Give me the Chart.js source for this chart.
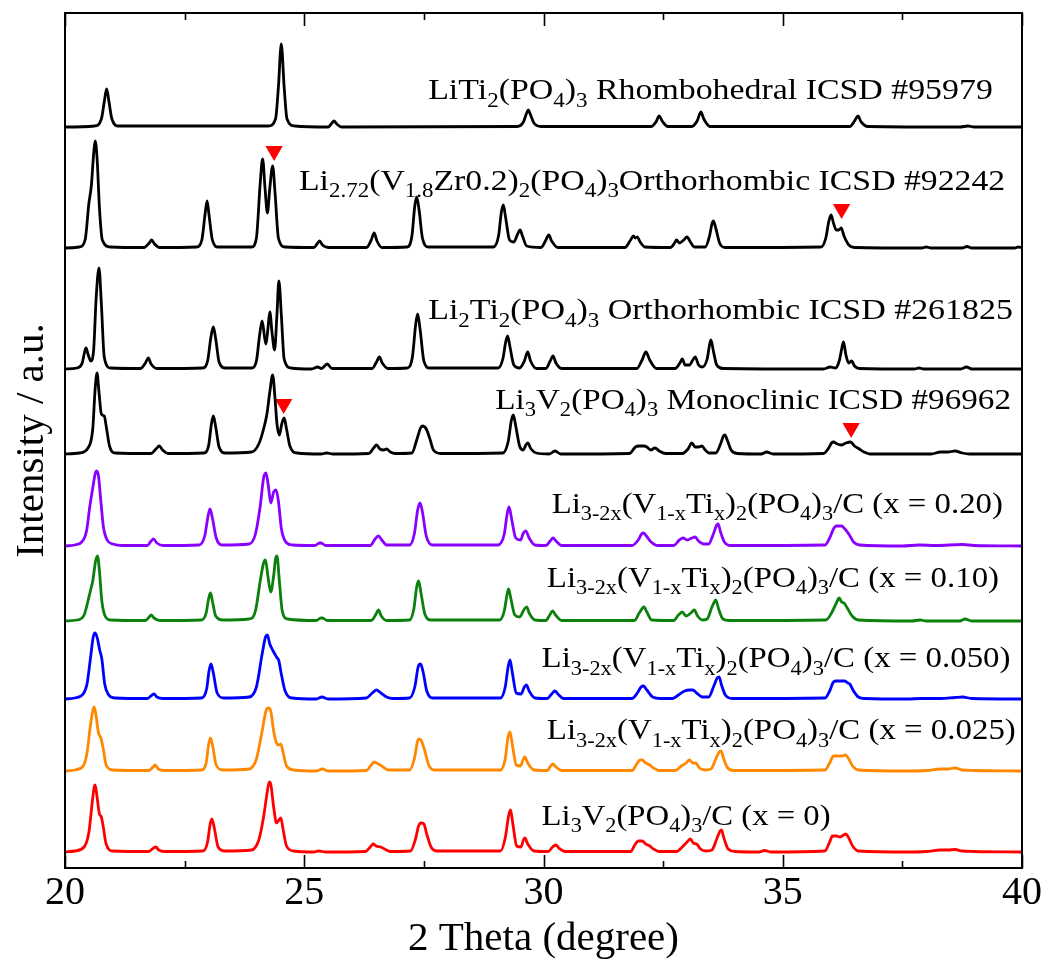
<!DOCTYPE html>
<html><head><meta charset="utf-8">
<script src="https://cdn.jsdelivr.net/npm/chart.js@4/dist/chart.umd.min.js"></script>
<style>html,body{margin:0;padding:0;background:#fff;}canvas{display:block;}</style>
</head><body>
<canvas id="c" width="1047" height="963"></canvas>
<script>
// ---------------- DATA (2θ in degrees, intensity above each pattern's own baseline, a.u.) ----------------
const xTickLabels = ['20', '25', '30', '35', '40'];
const minorTickValues = [22.5, 27.5, 32.5, 37.5];

const liti2Rhombohedral = [[20,0],[20.62,1],[20.76,8],[20.82,25],[20.87,38],[20.92,25],[20.98,8],[21.12,1],
[24.25,1],[24.4,8],[24.46,40],[24.52,83],[24.58,40],[24.64,8],[24.8,1],
[25.5,0],[25.58,4],[25.62,6],[25.68,3],[25.78,0],
[29.45,0.5],[29.58,5],[29.64,13],[29.68,17],[29.73,12],[29.8,4],[29.95,0.5],
[32.25,0.5],[32.35,5],[32.42,11],[32.48,6],[32.6,0.5],
[33.1,0.5],[33.21,6],[33.29,15],[33.35,8],[33.48,0.5],
[36.4,0.5],[36.5,6],[36.57,11],[36.64,5],[36.78,0.5],
[38.7,0],[38.87,1],[39.0,0],[40,0]];

const li272Orthorhombic = [[20,0],[20.3,1],[20.42,8],[20.5,45],[20.55,62],[20.6,95],[20.63,107],[20.67,90],[20.72,40],[20.78,8],[20.95,1],
[21.65,0.5],[21.76,5],[21.81,8],[21.87,4],[21.98,0.5],
[22.75,1],[22.86,8],[22.93,35],[22.97,47],[23.01,33],[23.08,8],[23.2,1],
[23.9,1],[24.0,10],[24.08,65],[24.13,89],[24.18,60],[24.23,35],[24.28,60],[24.34,82],[24.39,55],[24.46,10],[24.6,1],
[25.2,0.5],[25.28,5],[25.32,7],[25.38,3],[25.5,0.5],
[26.3,0.5],[26.4,8],[26.46,15],[26.52,7],[26.62,0.5],
[27.15,1],[27.25,12],[27.31,42],[27.35,51],[27.4,38],[27.47,10],[27.6,1],
[28.95,1],[29.06,12],[29.12,36],[29.16,43],[29.21,30],[29.29,8],[29.38,6],[29.46,14],[29.51,18],[29.56,12],[29.65,2],
[29.95,0.5],[30.05,8],[30.11,13],[30.17,7],[30.3,0.5],
[31.7,0.5],[31.82,8],[31.88,12],[31.92,10],[31.96,11],[32.02,6],[32.12,1],
[32.65,0.5],[32.74,5],[32.78,8],[32.84,5],[32.93,8],[33.0,11],[33.07,6],[33.15,1],
[33.38,1],[33.47,12],[33.52,24],[33.55,27],[33.6,20],[33.68,5],[33.8,0.5],
[35.8,1],[35.9,10],[35.96,26],[36.01,33],[36.06,25],[36.12,18],[36.17,18],[36.22,20],[36.28,12],[36.38,3],[36.5,0.5],
[37.9,0],[38.0,1],[38.1,0],[38.75,0],[38.85,1.5],[38.95,0],[39.85,0],[39.92,1],[40,0.5]];

const li2ti2Orthorhombic = [[20,0],[20.25,1],[20.36,6],[20.41,17],[20.44,21],[20.48,15],[20.54,8],[20.6,20],[20.65,70],[20.71,101],[20.76,65],[20.82,12],[20.95,1],
[21.58,0.5],[21.68,6],[21.74,11],[21.8,5],[21.92,0.5],
[22.88,1],[22.98,8],[23.05,32],[23.10,42],[23.15,30],[23.22,7],[23.35,1],
[23.9,1],[24.0,8],[24.07,35],[24.12,48],[24.17,32],[24.2,25],[24.24,40],[24.28,57],[24.33,35],[24.38,19],[24.43,55],[24.47,88],[24.52,55],[24.58,10],[24.72,1],
[25.15,0],[25.28,2],[25.36,0.5],[25.48,5],[25.58,0.5],
[26.42,0.5],[26.51,7],[26.57,12],[26.63,6],[26.75,0.5],
[27.15,1],[27.26,12],[27.33,45],[27.37,55],[27.42,40],[27.5,8],[27.62,1],
[29.05,1],[29.15,10],[29.21,27],[29.25,33],[29.3,22],[29.38,4],[29.5,1],[29.6,8],[29.67,17],[29.73,8],[29.85,0.5],
[30.05,0.5],[30.14,8],[30.2,13],[30.26,6],[30.38,0.5],
[31.95,0.5],[32.06,9],[32.14,17],[32.22,9],[32.36,0.5],
[32.75,0.5],[32.85,6],[32.9,10],[32.96,4],[33.05,4],[33.12,9],[33.17,12],[33.24,4],[33.32,2],[33.42,10],[33.47,24],[33.5,29],[33.55,18],[33.62,4],[33.75,0.5],
[35.85,0],[35.99,2],[36.1,1],[36.18,8],[36.24,22],[36.27,27],[36.32,14],[36.38,6],[36.44,8],[36.5,3],[36.6,0.5],
[37.75,0],[37.85,1],[37.95,0],[38.72,0],[38.84,2],[38.95,0],[40,0]];

const li3v2Monoclinic = [[20,0],[20.3,1],[20.48,6],[20.58,25],[20.63,65],[20.67,81],[20.71,62],[20.76,40],[20.82,38],[20.87,25],[20.93,8],[21.05,1],
[21.8,0.5],[21.9,5],[21.97,8],[22.04,4],[22.15,0.5],
[22.9,1],[23.0,8],[23.06,30],[23.10,38],[23.15,27],[23.22,7],[23.35,1],
[23.9,2],[24.05,10],[24.15,25],[24.22,40],[24.28,62],[24.34,79],[24.39,55],[24.43,30],[24.48,19],[24.53,30],[24.58,36],[24.63,25],[24.7,8],[24.85,1],
[25.35,0],[25.47,1],[25.6,0],
[26.35,0.5],[26.45,6],[26.51,9],[26.58,5],[26.66,4],[26.72,5],[26.8,2],[26.9,0.5],
[27.25,1],[27.35,14],[27.43,26],[27.47,28],[27.55,25],[27.62,16],[27.7,4],[27.85,0.5],
[29.15,1],[29.26,12],[29.33,34],[29.37,39],[29.42,28],[29.5,8],[29.58,4],[29.63,9],[29.67,11],[29.74,5],[29.85,1],
[30.12,0],[30.24,3],[30.36,0],
[31.8,0.5],[31.92,7],[32.0,8],[32.1,8],[32.16,7],[32.24,4],[32.33,6],[32.42,3],[32.55,0.5],
[32.9,0.5],[33.02,5],[33.1,11],[33.17,7],[33.24,7],[33.31,8],[33.38,4],[33.46,1],
[33.6,1],[33.7,10],[33.76,18],[33.79,19],[33.84,14],[33.92,4],[34.05,0.5],
[34.55,0],[34.66,2],[34.8,0],
[35.85,0.5],[35.96,6],[36.02,11],[36.06,12],[36.14,10],[36.22,9],[36.32,11],[36.42,12],[36.5,8],[36.6,5],[36.7,2],[36.82,0],
[38.1,0],[38.3,2],[38.45,2],[38.6,3],[38.75,1],[38.9,0],[40,0]];

const sampleX020 = [[20,0],[20.2,1],[20.35,4],[20.45,15],[20.52,40],[20.58,58],[20.63,72],[20.66,75],[20.7,70],[20.74,50],[20.8,20],[20.88,6],[21.0,2],[21.2,0.5],
[21.72,0.5],[21.8,5],[21.85,7],[21.92,3],[22.05,0.5],
[22.8,1],[22.92,10],[22.99,30],[23.03,37],[23.08,28],[23.16,8],[23.3,1],
[23.85,2],[23.98,12],[24.08,40],[24.15,68],[24.2,73],[24.25,60],[24.3,43],[24.36,54],[24.41,56],[24.46,45],[24.52,18],[24.6,5],[24.75,1],
[25.22,0.5],[25.32,3],[25.35,3],[25.45,0.5],
[26.38,0.5],[26.48,7],[26.55,10],[26.62,6],[26.72,1],
[27.2,1],[27.3,12],[27.37,36],[27.42,43],[27.47,34],[27.55,10],[27.68,1],
[29.05,1],[29.18,12],[29.24,32],[29.28,39],[29.33,28],[29.42,8],[29.52,6],[29.58,13],[29.63,15],[29.7,8],[29.82,1],
[30.05,0.5],[30.14,5],[30.2,8],[30.26,5],[30.38,0.5],
[31.85,0.5],[31.98,6],[32.05,12],[32.09,13],[32.15,10],[32.25,4],[32.38,0.5],
[32.72,0.5],[32.84,6],[32.92,8],[33.0,6],[33.1,8],[33.17,9],[33.24,5],[33.35,2],
[33.45,2],[33.55,12],[33.62,21],[33.65,22],[33.7,14],[33.78,4],[33.92,0.5],
[35.88,1],[35.98,8],[36.06,17],[36.12,20],[36.18,20],[36.23,20],[36.3,17],[36.38,12],[36.48,4],[36.6,1],
[37.5,0],[37.85,1],[38.2,0.5],[38.76,1.5],[39.0,0.5],[40,0]];

const sampleX010 = [[20,0],[20.25,1],[20.4,6],[20.48,20],[20.53,30],[20.58,40],[20.64,60],[20.68,65],[20.72,50],[20.77,20],[20.83,6],[20.95,1],
[21.68,0.5],[21.76,4],[21.8,6],[21.86,3],[21.98,0.5],
[22.85,1],[22.95,8],[23.0,22],[23.04,28],[23.08,20],[23.15,5],[23.3,1],
[23.85,2],[23.98,10],[24.08,40],[24.15,58],[24.19,61],[24.24,45],[24.3,29],[24.36,45],[24.4,62],[24.43,65],[24.48,40],[24.54,10],[24.65,2],
[25.25,0.5],[25.35,3],[25.38,3],[25.48,0.5],
[26.4,0.5],[26.49,6],[26.55,11],[26.61,5],[26.72,0.5],
[27.2,1],[27.29,12],[27.35,34],[27.39,40],[27.44,28],[27.52,7],[27.65,1],
[29.08,1],[29.18,10],[29.24,27],[29.27,32],[29.32,22],[29.4,6],[29.5,4],[29.6,12],[29.65,14],[29.7,8],[29.82,1],
[30.05,0.5],[30.13,6],[30.19,10],[30.25,6],[30.38,0.5],
[31.9,0.5],[32.0,8],[32.07,13],[32.1,14],[32.16,9],[32.26,1],
[32.72,0.5],[32.82,6],[32.9,9],[32.98,5],[33.08,8],[33.15,11],[33.22,5],[33.32,1],
[33.42,2],[33.52,14],[33.58,20],[33.6,21],[33.66,12],[33.75,2],[33.88,0.5],
[35.9,1],[36.02,8],[36.12,18],[36.18,23],[36.23,19],[36.28,18],[36.36,12],[36.45,5],[36.58,1],
[37.7,0],[37.87,1],[38.0,0],[38.7,0],[38.81,2],[38.95,0],[40,0]];

const sampleX050 = [[20,0],[20.2,1],[20.38,5],[20.46,15],[20.53,40],[20.59,62],[20.63,66],[20.68,60],[20.72,50],[20.77,40],[20.83,15],[20.9,5],[21.05,1],
[21.72,0.5],[21.82,4],[21.86,5],[21.92,2],[22.05,0.5],
[22.85,1],[22.96,10],[23.01,28],[23.05,35],[23.1,26],[23.18,6],[23.32,1],
[23.85,2],[24.0,12],[24.12,45],[24.19,62],[24.23,64],[24.28,55],[24.35,48],[24.42,42],[24.47,38],[24.52,25],[24.6,8],[24.75,1],
[25.25,0],[25.37,2],[25.5,0],
[26.3,1],[26.42,6],[26.51,9],[26.6,6],[26.72,2],[26.85,0.5],
[27.2,1],[27.31,12],[27.38,32],[27.43,35],[27.48,28],[27.56,8],[27.7,1],
[29.1,1],[29.2,12],[29.26,32],[29.3,39],[29.35,26],[29.43,6],[29.53,5],[29.6,12],[29.64,14],[29.7,8],[29.82,1],
[30.08,0.5],[30.17,5],[30.24,8],[30.3,5],[30.42,0.5],
[31.85,0.5],[31.96,6],[32.04,12],[32.09,13],[32.16,9],[32.28,2],[32.45,0.5],
[32.7,0.5],[32.82,4],[32.95,8],[33.05,9],[33.12,9],[33.2,6],[33.32,2],
[33.45,2],[33.56,13],[33.63,21],[33.67,22],[33.72,14],[33.8,4],[33.95,0.5],
[35.88,1],[35.98,8],[36.06,17],[36.12,18],[36.2,18],[36.29,18],[36.36,16],[36.4,15],[36.48,8],[36.58,2],[36.72,0.5],
[37.6,0],[37.9,0.5],[38.3,0.5],[38.6,1.5],[38.76,2],[38.95,0.5],[40,0]];

const sampleX025 = [[20,0],[20.2,1],[20.38,5],[20.46,18],[20.53,45],[20.58,60],[20.61,64],[20.65,55],[20.7,38],[20.75,33],[20.8,22],[20.86,6],[21.0,1],
[21.75,0.5],[21.84,4],[21.88,6],[21.95,2],[22.08,0.5],
[22.85,1],[22.95,8],[23.0,26],[23.04,33],[23.09,24],[23.16,6],[23.3,1],
[23.85,2],[24.0,12],[24.12,40],[24.2,60],[24.25,63],[24.3,60],[24.36,40],[24.42,28],[24.47,26],[24.51,27],[24.56,18],[24.63,5],[24.78,1],
[25.25,0],[25.38,2],[25.5,0],
[26.3,0.5],[26.4,6],[26.46,9],[26.55,7],[26.65,4],[26.75,1],
[27.2,1],[27.3,12],[27.37,30],[27.4,32],[27.45,30],[27.52,20],[27.6,6],[27.72,1],
[29.1,1],[29.2,12],[29.26,34],[29.3,39],[29.35,26],[29.43,6],[29.52,5],[29.58,12],[29.61,14],[29.67,8],[29.8,1],
[30.08,0.5],[30.15,5],[30.2,7],[30.26,4],[30.38,0.5],
[31.85,0.5],[31.95,7],[32.02,11],[32.06,11],[32.14,8],[32.22,6],[32.3,3],[32.42,0.5],
[32.75,0.5],[32.88,5],[32.98,8],[33.05,11],[33.12,8],[33.18,8],[33.26,3],[33.38,1],
[33.5,2],[33.6,12],[33.67,19],[33.71,20],[33.76,13],[33.85,3],[33.98,0.5],
[35.88,1],[35.98,8],[36.06,15],[36.15,15],[36.24,15],[36.31,16],[36.38,12],[36.46,5],[36.58,1],
[37.6,0],[38.0,0.5],[38.3,2],[38.45,2],[38.6,3],[38.75,1],[39.0,0.5],[40,0]];

const sampleX000 = [[20,0],[20.2,1],[20.4,5],[20.5,20],[20.57,50],[20.61,65],[20.63,67],[20.67,55],[20.72,38],[20.76,35],[20.8,25],[20.86,8],[21.0,1],
[21.75,0.5],[21.85,4],[21.9,5],[21.96,2],[22.08,0.5],
[22.88,1],[22.98,10],[23.03,27],[23.07,33],[23.12,24],[23.2,5],[23.34,1],
[23.9,2],[24.05,12],[24.15,35],[24.22,58],[24.27,70],[24.3,68],[24.36,45],[24.42,29],[24.47,32],[24.51,34],[24.56,22],[24.63,6],[24.78,1],
[25.2,0],[25.3,1],[25.45,0],
[26.28,0.5],[26.38,5],[26.44,8],[26.5,6],[26.6,5],[26.68,3],[26.8,0.5],
[27.22,1],[27.32,12],[27.39,26],[27.44,29],[27.5,28],[27.56,18],[27.65,5],[27.78,1],
[29.1,1],[29.2,14],[29.27,36],[29.31,42],[29.36,28],[29.44,6],[29.53,5],[29.58,12],[29.61,14],[29.67,8],[29.8,1],
[30.1,0.5],[30.19,5],[30.26,7],[30.32,4],[30.45,0.5],
[31.82,0.5],[31.92,8],[31.98,11],[32.06,11],[32.14,8],[32.22,6],[32.3,3],[32.42,0.5],
[32.78,0.5],[32.9,5],[33.0,10],[33.07,13],[33.13,9],[33.2,8],[33.28,3],[33.4,1],
[33.52,2],[33.62,13],[33.69,21],[33.72,22],[33.77,14],[33.86,3],[34.0,0.5],
[34.5,0],[34.62,1.5],[34.75,0],
[35.88,1],[35.98,10],[36.04,16],[36.12,16],[36.2,15],[36.27,17],[36.32,18],[36.38,14],[36.46,6],[36.58,1],
[37.6,0],[38.0,0.5],[38.3,2],[38.45,2],[38.6,2.5],[38.75,1],[39.0,0.5],[40,0]];

// vertical stacking offset of each pattern (a.u.), top to bottom
const stackOffsets = [741, 620, 499, 414, 322, 247, 169, 97, 16];

// impurity-phase markers (red triangles): 2θ and stacked intensity
const markerTheta = [24.37, 36.23, 24.57, 36.43];
const markerIntensity = [717, 659, 464, 440];

// ---------------- CHART ----------------
const FONT = "'Liberation Serif', 'Times New Roman', serif";
const series = [
  {pts: liti2Rhombohedral, color: '#000000'},
  {pts: li272Orthorhombic, color: '#000000'},
  {pts: li2ti2Orthorhombic, color: '#000000'},
  {pts: li3v2Monoclinic, color: '#000000'},
  {pts: sampleX020, color: '#8a00ff'},
  {pts: sampleX010, color: '#0b800b'},
  {pts: sampleX050, color: '#0000ff'},
  {pts: sampleX025, color: '#ff8800'},
  {pts: sampleX000, color: '#ff0000'}
];

const datasets = series.map((s, i) => ({
  type: 'line',
  data: s.pts.map(p => ({x: p[0], y: stackOffsets[i] + p[1]})),
  borderColor: s.color,
  borderWidth: 2.8,
  pointRadius: 0,
  cubicInterpolationMode: 'monotone',
  fill: false
}));
datasets.push({
  type: 'scatter',
  data: markerTheta.map((t, i) => ({x: t, y: markerIntensity[i]})),
  pointStyle: 'triangle',
  rotation: 180,
  pointRadius: 10,
  backgroundColor: '#ff0000',
  borderWidth: 0
});

const sub = 1, nor = 0;
const labels = [
  {segs: [['LiTi',nor],['2',sub],['(PO',nor],['4',sub],[')',nor],['3',sub],[' Rhombohedral ICSD #95979',nor]], x0: 27.59, x1: 39.39, y: 768.7},
  {segs: [['Li',nor],['2.72',sub],['(V',nor],['1.8',sub],['Zr0.2)',nor],['2',sub],['(PO',nor],['4',sub],[')',nor],['3',sub],['Orthorhombic ICSD #92242',nor]], x0: 24.89, x1: 39.65, y: 678},
  {segs: [['Li',nor],['2',sub],['Ti',nor],['2',sub],['(PO',nor],['4',sub],[')',nor],['3',sub],[' Orthorhombic ICSD #261825',nor]], x0: 27.59, x1: 39.81, y: 548.7},
  {segs: [['Li',nor],['3',sub],['V',nor],['2',sub],['(PO',nor],['4',sub],[')',nor],['3',sub],[' Monoclinic ICSD #96962',nor]], x0: 28.99, x1: 39.77, y: 459},
  {segs: [['Li',nor],['3-2x',sub],['(V',nor],['1-x',sub],['Ti',nor],['x',sub],[')',nor],['2',sub],['(PO',nor],['4',sub],[')',nor],['3',sub],['/C (x = 0.20)',nor]], x0: 30.17, x1: 39.6, y: 355},
  {segs: [['Li',nor],['3-2x',sub],['(V',nor],['1-x',sub],['Ti',nor],['x',sub],[')',nor],['2',sub],['(PO',nor],['4',sub],[')',nor],['3',sub],['/C (x = 0.10)',nor]], x0: 30.07, x1: 39.52, y: 281.3},
  {segs: [['Li',nor],['3-2x',sub],['(V',nor],['1-x',sub],['Ti',nor],['x',sub],[')',nor],['2',sub],['(PO',nor],['4',sub],[')',nor],['3',sub],['/C (x = 0.050)',nor]], x0: 29.96, x1: 39.76, y: 200.7},
  {segs: [['Li',nor],['3-2x',sub],['(V',nor],['1-x',sub],['Ti',nor],['x',sub],[')',nor],['2',sub],['(PO',nor],['4',sub],[')',nor],['3',sub],['/C (x = 0.025)',nor]], x0: 30.07, x1: 39.87, y: 128.7},
  {segs: [['Li',nor],['3',sub],['V',nor],['2',sub],['(PO',nor],['4',sub],[')',nor],['3',sub],['/C (x = 0)',nor]], x0: 29.96, x1: 36.0, y: 43}
];

function drawRich(ctx, segs, x0, x1, yBase, size) {
  const subSize = size * 0.68;
  let w = 0;
  for (const [t, s] of segs) { ctx.font = (s ? subSize : size) + 'px ' + FONT; w += ctx.measureText(t).width; }
  const sx = (x1 - x0) / w;
  ctx.save();
  ctx.translate(x0, yBase);
  ctx.scale(sx, 1);
  ctx.textBaseline = 'alphabetic';
  ctx.textAlign = 'left';
  let cx = 0;
  for (const [t, s] of segs) {
    ctx.font = (s ? subSize : size) + 'px ' + FONT;
    ctx.fillText(t, cx, s ? size * 0.24 : 0);
    cx += ctx.measureText(t).width;
  }
  ctx.restore();
}

const decor = {
  id: 'decor',
  afterDatasetsDraw(chart) {
    const {ctx, chartArea: a, scales: {x, y}} = chart;
    ctx.save();
    ctx.fillStyle = '#000';
    for (const L of labels) {
      drawRich(ctx, L.segs, x.getPixelForValue(L.x0), x.getPixelForValue(L.x1), y.getPixelForValue(L.y), 30);
    }
    // frame
    ctx.strokeStyle = '#000';
    ctx.lineWidth = 2;
    ctx.strokeRect(a.left, a.top, a.right - a.left, a.bottom - a.top);
    // ticks (inward, top and bottom)
    ctx.lineWidth = 1.6;
    const tick = (v, len) => {
      const px = Math.round(x.getPixelForValue(v)) + 0.5;
      ctx.beginPath();
      ctx.moveTo(px, a.bottom); ctx.lineTo(px, a.bottom - len);
      ctx.moveTo(px, a.top); ctx.lineTo(px, a.top + len);
      ctx.stroke();
    };
    x.ticks.forEach(t => tick(t.value, 13));
    minorTickValues.forEach(v => tick(v, 7));
    // axis titles
    ctx.fillStyle = '#000';
    ctx.font = '41px ' + FONT;
    ctx.textAlign = 'center';
    ctx.textBaseline = 'alphabetic';
    ctx.fillText('2 Theta (degree)', (a.left + a.right) / 2, 950);
    ctx.save();
    ctx.translate(43, (a.top + a.bottom) / 2);
    ctx.rotate(-Math.PI / 2);
    ctx.fillText('Intensity / a.u.', 0, 0);
    ctx.restore();
    ctx.restore();
  }
};

new Chart(document.getElementById('c'), {
  data: {datasets},
  options: {
    responsive: false,
    animation: false,
    devicePixelRatio: 1,
    layout: {padding: {top: 13, right: 25, left: 0, bottom: 0}},
    plugins: {legend: {display: false}, tooltip: {enabled: false}},
    scales: {
      x: {
        type: 'linear', min: 20, max: 40,
        grid: {display: false, drawTicks: false},
        border: {display: false},
        ticks: {
          stepSize: 5, padding: 1, color: '#000',
          font: {family: FONT, size: 40},
          callback: (v) => xTickLabels[Math.round((v - 20) / 5)]
        },
        afterFit: (s) => { s.height = 95; }
      },
      y: {
        type: 'linear', min: 0, max: 855,
        grid: {display: false, drawTicks: false},
        border: {display: false},
        ticks: {display: false},
        afterFit: (s) => { s.width = 65; }
      }
    }
  },
  plugins: [decor]
});
</script>
</body></html>
